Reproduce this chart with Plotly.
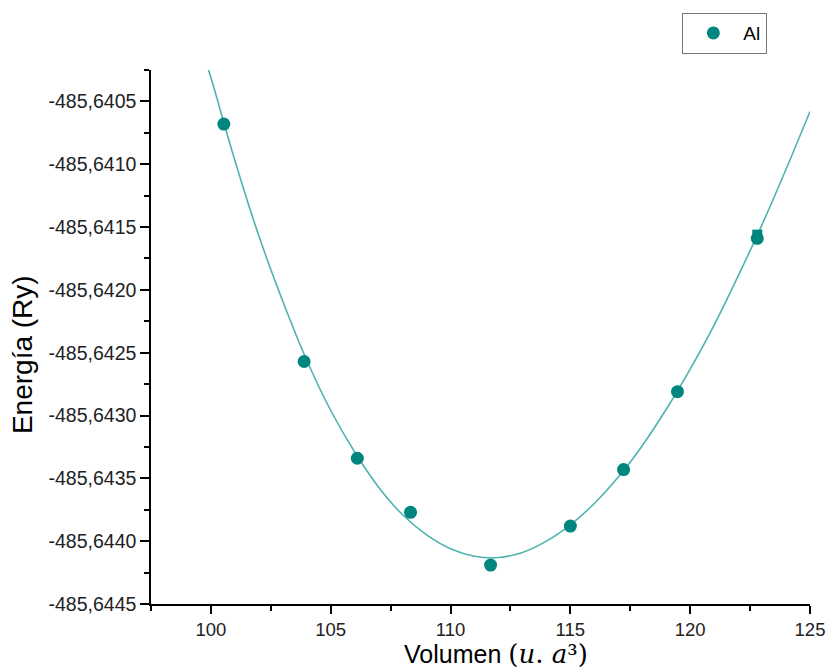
import plotly.graph_objects as go

# Measured data points (Volumen, Energía)
vol = [100.54, 103.89, 106.11, 108.33, 111.67, 115.00, 117.22, 119.47, 122.80]
energy = [-485.64068, -485.64257, -485.64334, -485.64377, -485.64419,
          -485.64388, -485.64343, -485.64281, -485.64159]

# Extra overlapping square marker near the last point
sq_vol = [122.80]
sq_energy = [-485.64156]

# Fitted curve
fit_vol = [99.88, 100, 101, 102, 103, 104, 105, 106, 107, 108, 109, 110, 111, 112,
           113, 114, 115, 116, 117, 118, 119, 120, 121, 122, 123, 124, 125]
fit_energy = [-485.64024, -485.64031, -485.64097, -485.64157, -485.64209,
              -485.64256, -485.64296, -485.64329, -485.64357, -485.64379,
              -485.64395, -485.64406, -485.64412, -485.64413, -485.64409,
              -485.64400, -485.64387, -485.64370, -485.64349, -485.64324,
              -485.64295, -485.64263, -485.64228, -485.64189, -485.64148,
              -485.64104, -485.64058]

x_ticks = [100, 105, 110, 115, 120, 125]
y_ticks = [-485.6405, -485.6410, -485.6415, -485.6420, -485.6425,
           -485.6430, -485.6435, -485.6440, -485.6445]
y_ticktext = ["-485,6405", "-485,6410", "-485,6415", "-485,6420", "-485,6425",
              "-485,6430", "-485,6435", "-485,6440", "-485,6445"]

x_title = ("Volumen <span style='font-family:DejaVu Serif;font-size:26px'>"
           "(<i>u</i>. <i>a</i>³)</span>")
y_title = "Energía (Ry)"

TEAL = "#00857F"
LINE = "#4FB3AF"
FONT = "Liberation Sans, Arial, sans-serif"

fig = go.Figure()
fig.add_trace(go.Scatter(x=fit_vol, y=fit_energy, mode="lines",
                         line=dict(color=LINE, width=1.6, shape="spline"),
                         showlegend=False, hoverinfo="skip"))
fig.add_trace(go.Scatter(x=sq_vol, y=sq_energy, mode="markers",
                         marker=dict(symbol="square", size=10, color=TEAL),
                         showlegend=False))
fig.add_trace(go.Scatter(x=vol, y=energy, mode="markers", name="Al",
                         marker=dict(symbol="circle", size=13, color=TEAL)))

axis_common = dict(showgrid=False, zeroline=False, showline=True,
                   linecolor="black", linewidth=1.5, ticks="outside",
                   tickwidth=1.5, tickcolor="black", mirror=False)

fig.update_xaxes(range=[97.5, 125], tickvals=x_ticks, ticklen=8,
                 tickfont=dict(family=FONT, size=18.5, color="#222"),
                 minor=dict(dtick=2.5, tick0=97.5, ticks="outside", ticklen=5,
                            tickwidth=1.5, tickcolor="black"),
                 **axis_common)
fig.update_yaxes(range=[-485.6445, -485.64025], tickvals=y_ticks,
                 ticktext=y_ticktext, ticklen=9,
                 tickfont=dict(family=FONT, size=19.5, color="#222"),
                 minor=dict(dtick=0.00025, tick0=-485.6445, ticks="outside",
                            ticklen=5, tickwidth=1.5, tickcolor="black"),
                 **axis_common)

fig.add_annotation(text=x_title, xref="paper", yref="paper",
                   x=0.5235, y=-0.1236, xanchor="center", yanchor="bottom",
                   showarrow=False, borderpad=0,
                   font=dict(family=FONT, size=25, color="black"))
fig.add_annotation(text=y_title, xref="paper", yref="paper",
                   x=-0.1958, y=0.468, xanchor="center", yanchor="middle",
                   textangle=-90, showarrow=False,
                   font=dict(family=FONT, size=28, color="black"))

fig.update_layout(
    width=827, height=670,
    margin=dict(l=151, r=17, t=70, b=66, autoexpand=False),
    plot_bgcolor="white", paper_bgcolor="white",
    font=dict(family=FONT, color="black"),
    legend=dict(x=0.806, y=1.107, xanchor="left", yanchor="top",
                bordercolor="#777", borderwidth=1.2, bgcolor="white",
                font=dict(family=FONT, size=19, color="black"),
                itemwidth=50),
)

fig.write_html("out.html")
